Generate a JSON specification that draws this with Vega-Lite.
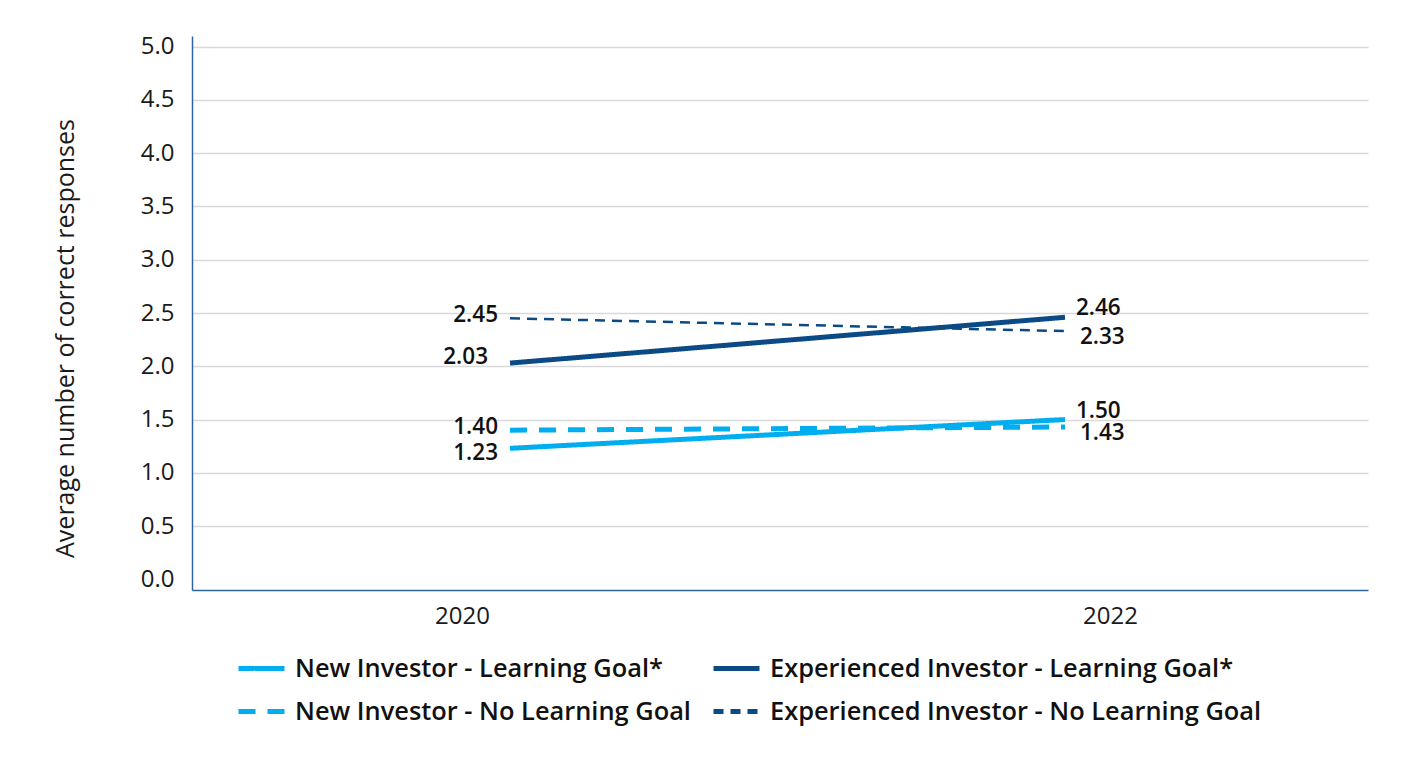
{
  "$schema": "https://vega.github.io/schema/vega-lite/v6.json",
  "autosize": {"type": "none"},
  "width": 1176,
  "height": 554,
  "padding": {"left": 192, "top": 36, "right": 33, "bottom": 169},
  "background": "white",
  "config": {
    "font": "Open Sans",
    "view": {"stroke": null},
    "axis": {"labelFont": "Open Sans", "titleFont": "Open Sans", "labelColor": "#1a1a1a", "titleColor": "#1a1a1a"}
  },
  "data": {
    "values": [
      {"year": 2020, "series": "New Investor - Learning Goal*", "value": 1.23},
      {"year": 2022, "series": "New Investor - Learning Goal*", "value": 1.50},
      {"year": 2020, "series": "Experienced Investor - Learning Goal*", "value": 2.03},
      {"year": 2022, "series": "Experienced Investor - Learning Goal*", "value": 2.46},
      {"year": 2020, "series": "New Investor - No Learning Goal", "value": 1.40},
      {"year": 2022, "series": "New Investor - No Learning Goal", "value": 1.43},
      {"year": 2020, "series": "Experienced Investor - No Learning Goal", "value": 2.45},
      {"year": 2022, "series": "Experienced Investor - No Learning Goal", "value": 2.33}
    ]
  },
  "encoding": {
    "x": {
      "field": "year", "type": "quantitative",
      "scale": {"domain": [2018.854, 2023.092], "nice": false, "zero": false},
      "axis": {
        "values": [2020, 2022], "format": "d", "title": null, "grid": false, "ticks": false,
        "labelFontSize": 24, "labelPadding": 14,
        "labelOffset": {"expr": "datum.value < 2021 ? -48 : 45"},
        "domainColor": "#2E64A0", "domainWidth": 1.5
      }
    },
    "y": {
      "field": "value", "type": "quantitative",
      "scale": {"domain": [-0.1, 5.1], "nice": false, "zero": false},
      "axis": {
        "values": [0, 0.5, 1, 1.5, 2, 2.5, 3, 3.5, 4, 4.5, 5], "format": ".1f",
        "title": "Average number of correct responses", "titleFontSize": 25, "titleFontWeight": "normal", "titlePadding": 62,
        "titleY": 302,
        "labelFontSize": 24, "labelPadding": 18, "ticks": false,
        "gridColor": "#D9D9D9", "gridWidth": 1.5,
        "gridOpacity": {"expr": "datum.value == 0 ? 0 : 1"},
        "domainColor": "#2E64A0", "domainWidth": 1.5
      }
    }
  },
  "layer": [
    {
      "mark": {"type": "line"},
      "encoding": {
        "color": {
          "field": "series", "type": "nominal",
          "scale": {
            "domain": ["New Investor - Learning Goal*", "New Investor - No Learning Goal", "Experienced Investor - Learning Goal*", "Experienced Investor - No Learning Goal"],
            "range": ["#00AEEF", "#00AEEF", "#0B4A85", "#0B4A85"]
          },
          "legend": {
            "title": null, "orient": "none", "legendX": 44, "legendY": 607, "columns": 2,
            "symbolType": "stroke", "symbolSize": 2116, "symbolStrokeWidth": 5,
            "labelFontSize": 25.4, "labelFontWeight": 600, "labelColor": "#111", "labelFont": "Open Sans",
            "labelOffset": 8, "columnPadding": 12, "rowPadding": 4, "labelLimit": 700
          }
        },
        "strokeDash": {
          "field": "series", "type": "nominal",
          "scale": {
            "domain": ["New Investor - Learning Goal*", "New Investor - No Learning Goal", "Experienced Investor - Learning Goal*", "Experienced Investor - No Learning Goal"],
            "range": [[1, 0], [17, 12], [1, 0], [10, 7]]
          },
          "legend": null
        },
        "strokeWidth": {
          "condition": {"test": "datum.series == 'Experienced Investor - No Learning Goal'", "value": 2.5},
          "value": 5
        }
      }
    },
    {
      "transform": [{"filter": "datum.year == 2020 && datum.series == 'Experienced Investor - Learning Goal*'"}],
      "mark": {"type": "text", "align": "right", "baseline": "middle", "dx": -22, "dy": -6, "fontSize": 22.5, "fontWeight": 600, "color": "#111"},
      "encoding": {"text": {"field": "value", "type": "quantitative", "format": ".2f"}}
    },
    {
      "transform": [{"filter": "datum.year == 2020 && datum.series == 'New Investor - Learning Goal*'"}],
      "mark": {"type": "text", "align": "right", "baseline": "middle", "dx": -12, "dy": 5, "fontSize": 22.5, "fontWeight": 600, "color": "#111"},
      "encoding": {"text": {"field": "value", "type": "quantitative", "format": ".2f"}}
    },
    {
      "transform": [{"filter": "datum.year == 2020 && indexof(datum.series, 'No Learning') >= 0"}],
      "mark": {"type": "text", "align": "right", "baseline": "middle", "dx": -12, "dy": -3, "fontSize": 22.5, "fontWeight": 600, "color": "#111"},
      "encoding": {"text": {"field": "value", "type": "quantitative", "format": ".2f"}}
    },
    {
      "transform": [{"filter": "datum.year == 2022 && indexof(datum.series, 'No Learning') < 0"}],
      "mark": {"type": "text", "align": "left", "baseline": "middle", "dx": 11, "dy": -9, "fontSize": 22.5, "fontWeight": 600, "color": "#111"},
      "encoding": {"text": {"field": "value", "type": "quantitative", "format": ".2f"}}
    },
    {
      "transform": [{"filter": "datum.year == 2022 && indexof(datum.series, 'No Learning') >= 0"}],
      "mark": {"type": "text", "align": "left", "baseline": "middle", "dx": 15, "dy": 6, "fontSize": 22.5, "fontWeight": 600, "color": "#111"},
      "encoding": {"text": {"field": "value", "type": "quantitative", "format": ".2f"}}
    }
  ]
}
